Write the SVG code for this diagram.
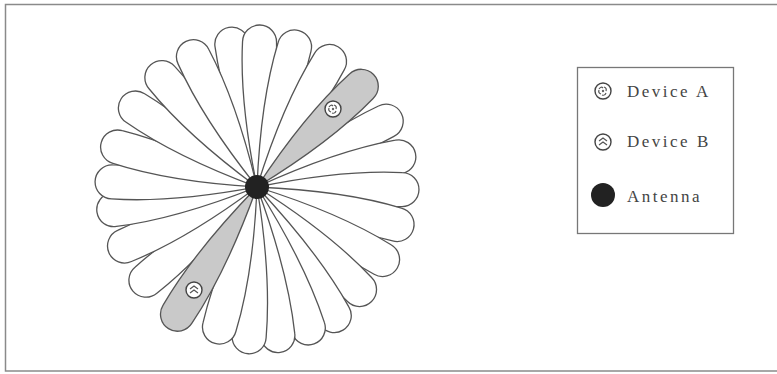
<svg xmlns="http://www.w3.org/2000/svg" xmlns:xlink="http://www.w3.org/1999/xlink" width="777" height="374" viewBox="0 0 777 374">
<style>
.petal{fill:#fff;stroke:#555;stroke-width:1.3}
.grey{fill:#c9c9c9;stroke:#555;stroke-width:1.3}
.lbl{font-family:"Liberation Serif","Times New Roman",serif;font-size:17px;letter-spacing:2.5px;fill:#444}
.dev{fill:#fff;stroke:#444;stroke-width:1.4}
.mark{fill:none;stroke:#555;stroke-width:1.2}
</style>
<defs>
<path id="p" d="M0,0 Q85,-19 145,-17 A17,17 0 0 1 145,17 Q85,19 0,0 Z"/>
<path id="pl" d="M0,0 Q88,-19 150,-17 A17,17 0 0 1 150,17 Q88,19 0,0 Z"/>
<g id="devA"><circle class="dev" r="8"/><path class="mark" d="M-4,-2 q2,-3 4,-1 M1,-4 q3,1 2,4 M3,2 q-1,3 -4,2 M-2,3 q-3,-1 -2,-4"/><circle r="1.2" fill="#666"/></g>
<g id="devB"><circle class="dev" r="8"/><path class="mark" d="M-4,-1 L0,-4 L4,-1 M-4,3 L0,0 L4,3"/></g>
</defs>
<rect x="5.5" y="4.5" width="790" height="366.5" fill="none" stroke="#8a8a8a" stroke-width="1.5"/>
<g id="petals" transform="translate(257,187)">
<use id="petal1" xlink:href="#p" class="petal" transform="rotate(-100)"/>
<use id="petal2" xlink:href="#p" class="petal" transform="rotate(-89)"/>
<use id="petal3" xlink:href="#p" class="petal" transform="rotate(-75)"/>
<use id="petal4" xlink:href="#p" class="petal" transform="rotate(-60)"/>
<use id="petal6" xlink:href="#p" class="petal" transform="rotate(-27)"/>
<use id="petal7" xlink:href="#p" class="petal" transform="rotate(-12)"/>
<use id="petal8" xlink:href="#p" class="petal" transform="rotate(1)"/>
<use id="petal9" xlink:href="#p" class="petal" transform="rotate(15)"/>
<use id="petal10" xlink:href="#p" class="petal" transform="rotate(30)"/>
<use id="petal11" xlink:href="#p" class="petal" transform="rotate(45)"/>
<use id="petal12" xlink:href="#pl" class="petal" transform="rotate(59)"/>
<use id="petal13" xlink:href="#pl" class="petal" transform="rotate(70)"/>
<use id="petal14" xlink:href="#pl" class="petal" transform="rotate(82)"/>
<use id="petal15" xlink:href="#pl" class="petal" transform="rotate(93)"/>
<use id="petal16" xlink:href="#p" class="petal" transform="rotate(105)"/>
<use id="petal18" xlink:href="#p" class="petal" transform="rotate(140)"/>
<use id="petal19" xlink:href="#p" class="petal" transform="rotate(156)"/>
<use id="petal20" xlink:href="#p" class="petal" transform="rotate(171)"/>
<use id="petal21" xlink:href="#p" class="petal" transform="rotate(-178)"/>
<use id="petal22" xlink:href="#p" class="petal" transform="rotate(-164)"/>
<use id="petal23" xlink:href="#p" class="petal" transform="rotate(-147)"/>
<use id="petal24" xlink:href="#p" class="petal" transform="rotate(-131)"/>
<use id="petal25" xlink:href="#p" class="petal" transform="rotate(-116)"/>
<use id="petal5" xlink:href="#p" class="grey" transform="rotate(-44)"/>
<use id="petal17" xlink:href="#pl" class="grey" transform="rotate(122)"/>
</g>
<g id="antenna"><circle cx="257" cy="187" r="12" fill="#222"/></g>
<g id="deviceA"><use xlink:href="#devA" x="333" y="109"/></g>
<g id="deviceB"><use xlink:href="#devB" x="194" y="290"/></g>
<g id="legend">
<rect x="577.5" y="67.5" width="156" height="166" fill="#fff" stroke="#777" stroke-width="1.3"/>
<use xlink:href="#devA" x="603" y="91"/>
<text class="lbl" x="627" y="97">Device A</text>
<use xlink:href="#devB" x="603" y="142"/>
<text class="lbl" x="627" y="147">Device B</text>
<circle cx="603" cy="195" r="12" fill="#222"/>
<text class="lbl" x="627" y="202">Antenna</text>
</g>
</svg>
